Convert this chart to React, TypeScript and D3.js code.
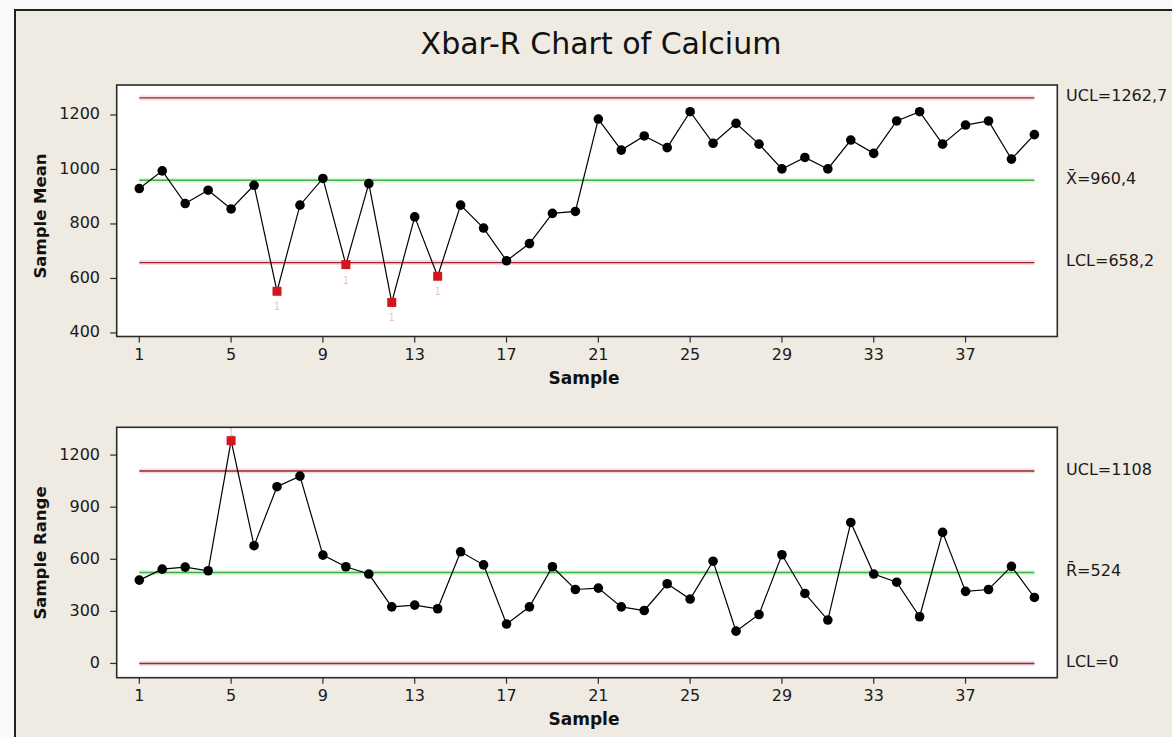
import React from 'react';
import * as d3 from 'd3';

// Xbar-R chart of Calcium
const sampleMeans = [
  930, 995, 875, 924, 855, 942, 553, 869, 967, 651,
  948, 512, 826, 608, 869, 785, 665, 728, 839, 846,
  1185, 1071, 1123, 1080, 1212, 1096, 1169, 1093, 1002, 1044,
  1002, 1108, 1059, 1178, 1212, 1093, 1163, 1178, 1038, 1128,
];
const sampleRanges = [
  480, 543, 555, 534, 1283, 678, 1018, 1079, 624, 557,
  515, 326, 336, 315, 643, 568, 227, 326, 557, 426,
  434, 326, 305, 459, 371, 589, 186, 282, 626, 403,
  250, 812, 515, 468, 269, 755, 415, 426, 559, 380,
];
const sampleTicks = [1, 5, 9, 13, 17, 21, 25, 29, 33, 37];
const meanTicks = [400, 600, 800, 1000, 1200];
const rangeTicks = [0, 300, 600, 900, 1200];
const meanLimits = { ucl: 1262.7, cl: 960.4, lcl: 658.2 };
const rangeLimits = { ucl: 1108, cl: 524, lcl: 0 };
const meanLabels = ['UCL=1262,7', 'X\u0304=960,4', 'LCL=658,2'];
const rangeLabels = ['UCL=1108', 'R\u0304=524', 'LCL=0'];

const W = 1172;
const H = 737;
const BG = '#efeae2';
const FONT = '"DejaVu Sans", Verdana, sans-serif';
const plotLeft = 116.7;
const plotRight = 1057.3;

const x = d3.scaleLinear().domain([1, 40]).range([139.3, 1034.4]);

type PanelProps = {
  values: number[];
  limits: { ucl: number; cl: number; lcl: number };
  labels: string[];
  ticks: number[];
  domain: [number, number];
  top: number;
  bottom: number;
  yLabel: string;
  yLabelCenter: number;
};

function Panel({ values, limits, labels, ticks, domain, top, bottom, yLabel, yLabelCenter }: PanelProps) {
  const y = d3.scaleLinear().domain(domain).range([bottom, top]);
  const line = d3.line<number>()
    .x((d, i) => x(i + 1))
    .y(d => y(d));
  const limitRows = [
    { v: limits.ucl, color: '#9e2430', label: labels[0] },
    { v: limits.cl, color: '#3cb043', label: labels[1] },
    { v: limits.lcl, color: '#9e2430', label: labels[2] },
  ];
  const out = (v: number) => v > limits.ucl || v < limits.lcl;

  return (
    <g>
      <rect x={plotLeft} y={top} width={plotRight - plotLeft} height={bottom - top}
        fill="#fff" stroke="#2b2b2b" strokeWidth={1.6} />
      {limitRows.map((r, i) => (
        <g key={i}>
          <line x1={x(1)} x2={x(40)} y1={y(r.v)} y2={y(r.v)}
            stroke={r.color} strokeOpacity={0.15} strokeWidth={5} />
          <line x1={x(1)} x2={x(40)} y1={y(r.v)} y2={y(r.v)}
            stroke={r.color} strokeWidth={1.4} />
          <text x={1066} y={y(r.v) - 1} dominantBaseline="middle"
            fontFamily={FONT} fontSize={16} fill="#1a1a1a">{r.label}</text>
        </g>
      ))}
      <path d={line(values) || ''} fill="none" stroke="#000" strokeWidth={1.2} />
      {values.map((v, i) => out(v) ? (
        <g key={i}>
          <rect x={x(i + 1) - 4.5} y={y(v) - 4.5} width={9} height={9} fill="#d4151f" />
          <text x={x(i + 1)} y={v < limits.lcl ? y(v) + 16 : y(v) - 8}
            textAnchor="middle" dominantBaseline="middle"
            fontFamily={FONT} fontSize={10} fill="#e06a74" fillOpacity={0.45}>1</text>
        </g>
      ) : (
        <circle key={i} cx={x(i + 1)} cy={y(v)} r={4.8} fill="#000" />
      ))}
      {ticks.map(t => (
        <g key={'y' + t}>
          <line x1={plotLeft - 6.5} x2={plotLeft} y1={y(t)} y2={y(t)} stroke="#2b2b2b" strokeWidth={1.2} />
          <text x={100} y={y(t)} textAnchor="end" dominantBaseline="middle"
            fontFamily={FONT} fontSize={16} fill="#1a1a1a">{t}</text>
        </g>
      ))}
      {sampleTicks.map(t => (
        <g key={'x' + t}>
          <line x1={x(t)} x2={x(t)} y1={bottom} y2={bottom + 6} stroke="#2b2b2b" strokeWidth={1.2} />
          <text x={x(t)} y={bottom + 19} textAnchor="middle" dominantBaseline="middle"
            fontFamily={FONT} fontSize={16} fill="#1a1a1a">{t}</text>
        </g>
      ))}
      <text x={(plotLeft + plotRight) / 2 - 3} y={bottom + 42} textAnchor="middle"
        dominantBaseline="middle" fontFamily={FONT} fontWeight="bold" fontSize={17}
        fill="#111">Sample</text>
      <text transform={`translate(41,${yLabelCenter}) rotate(-90)`} textAnchor="middle"
        dominantBaseline="middle" fontFamily={FONT} fontWeight="bold" fontSize={16.5}
        fill="#111">{yLabel}</text>
    </g>
  );
}

export default function App() {
  return (
    <svg width={W} height={H} style={{ position: 'absolute', left: 0, top: 0, background: '#fafaf8' }}>
      <rect x={15} y={10} width={W} height={H} fill={BG} stroke="#222" strokeWidth={2} />
      <text x={601} y={53.5} textAnchor="middle" fontFamily={FONT} fontSize={30} fill="#111">
        Xbar-R Chart of Calcium
      </text>
      <Panel values={sampleMeans} limits={meanLimits} labels={meanLabels} ticks={meanTicks}
        domain={[387, 1310]} top={85} bottom={336.5} yLabel="Sample Mean" yLabelCenter={216} />
      <Panel values={sampleRanges} limits={rangeLimits} labels={rangeLabels} ticks={rangeTicks}
        domain={[-82, 1360]} top={427.3} bottom={677.7} yLabel="Sample Range" yLabelCenter={553} />
    </svg>
  );
}
